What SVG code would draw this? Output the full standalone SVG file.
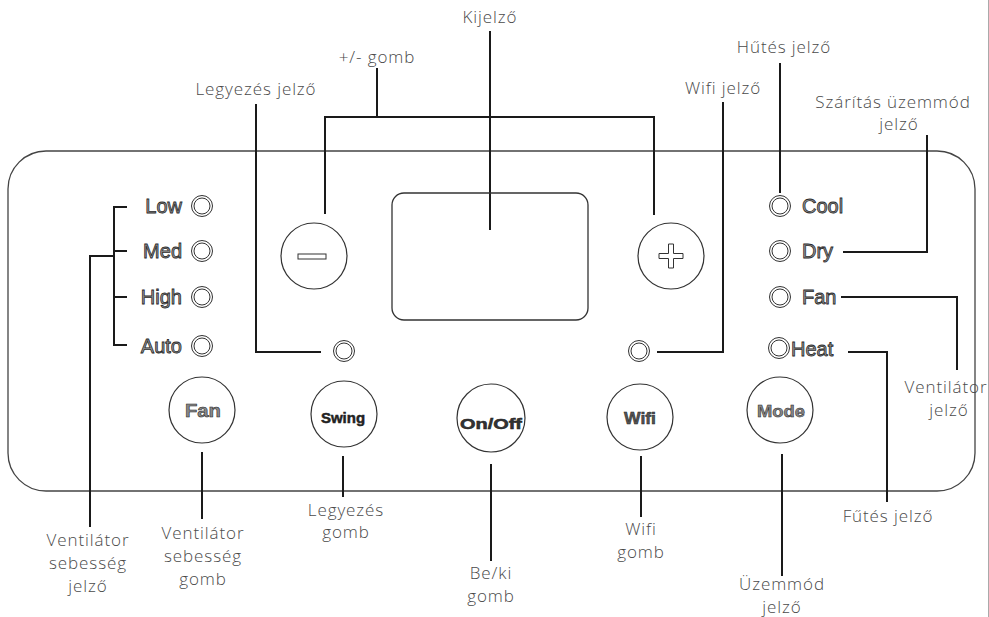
<svg xmlns="http://www.w3.org/2000/svg" width="989" height="617" viewBox="0 0 989 617">
<style>
.lbl{font-family:"Open Sans","Lato","Liberation Sans",sans-serif;font-weight:300;font-size:17px;letter-spacing:0.9px;fill:#4a4a4a;text-anchor:middle;dominant-baseline:central}
.key{font-family:"Liberation Sans",Arial,sans-serif;font-weight:normal;font-size:20px;fill:#9a9a9a;stroke:#2a2a2a;stroke-width:0.8;dominant-baseline:central}
.btn{font-family:"Liberation Sans",Arial,sans-serif;font-weight:bold;fill:#888;stroke:#222;stroke-width:0.5;text-anchor:middle;dominant-baseline:central}
.ln{stroke:#1a1a1a;stroke-width:2;fill:none}
.circ{fill:#fff;stroke:#333;stroke-width:1.2}
.led{fill:none;stroke:#333;stroke-width:1}
</style>
<defs>
<g id="ledsym"><circle r="10.5" class="led"/><circle r="8" class="led"/></g>
</defs>
<rect x="0" y="0" width="989" height="617" fill="#fff"/>
<line x1="988.5" y1="0" x2="988.5" y2="617" stroke="#aaa" stroke-width="1"/>
<g id="panel">
<rect x="8" y="151" width="967" height="340" rx="38" ry="38" fill="none" stroke="#444" stroke-width="1.3"/>
</g>
<g id="connectors">
<polyline class="ln" points="127,207 114,207 114,345 127,345"/>
<line class="ln" x1="114" y1="251" x2="127" y2="251"/>
<line class="ln" x1="114" y1="297" x2="127" y2="297"/>
<polyline class="ln" points="114,256 90,256 90,527"/>
<polyline class="ln" points="325,214 325,117 654,117 654,215"/>
<line class="ln" x1="377" y1="68" x2="377" y2="117"/>
<polyline class="ln" points="256,104 256,352 321,352"/>
<line class="ln" x1="490" y1="31" x2="490" y2="230"/>
<polyline class="ln" points="723,102 723,352 657,352"/>
<line class="ln" x1="780" y1="63" x2="780" y2="193"/>
<polyline class="ln" points="927,135 927,252 843,252"/>
<polyline class="ln" points="841,297 957,297 957,370"/>
<polyline class="ln" points="848,352 887,352 887,502"/>
<line class="ln" x1="202" y1="452" x2="202" y2="519"/>
<line class="ln" x1="343" y1="456" x2="343" y2="497"/>
<line class="ln" x1="491" y1="464" x2="491" y2="561"/>
<line class="ln" x1="641" y1="456" x2="641" y2="517"/>
<line class="ln" x1="782" y1="454" x2="782" y2="576"/>
</g>
<g id="speed-leds">
<text class="key" x="182" y="206" text-anchor="end">Low</text>
<use href="#ledsym" x="202" y="206"/>
<text class="key" x="182" y="251" text-anchor="end">Med</text>
<use href="#ledsym" x="202" y="251"/>
<text class="key" x="182" y="297" text-anchor="end">High</text>
<use href="#ledsym" x="202" y="297"/>
<text class="key" x="182" y="346" text-anchor="end">Auto</text>
<use href="#ledsym" x="202" y="346"/>
</g>
<g id="mode-leds">
<use href="#ledsym" x="780" y="206"/>
<text class="key" x="802" y="206">Cool</text>
<use href="#ledsym" x="780" y="251"/>
<text class="key" x="802" y="251">Dry</text>
<use href="#ledsym" x="780" y="297"/>
<text class="key" x="802" y="297">Fan</text>
<use href="#ledsym" x="779" y="348"/>
<text class="key" x="791" y="349">Heat</text>
</g>
<g id="minus-btn">
<circle class="circ" cx="314" cy="256" r="33"/>
<rect x="298" y="254" width="28" height="5" fill="#fff" stroke="#333" stroke-width="1"/>
</g>
<g id="plus-btn">
<circle class="circ" cx="671" cy="256" r="33"/>
<path d="M668.5,244 h5 v9.5 h9.5 v5 h-9.5 v9.5 h-5 v-9.5 h-9.5 v-5 h9.5 z" fill="#fff" stroke="#333" stroke-width="1"/>
</g>
<g id="display">
<rect x="392" y="193" width="196" height="127" rx="12" ry="12" fill="none" stroke="#333" stroke-width="1.3"/>
</g>
<g id="swing-led"><use href="#ledsym" x="344" y="351"/></g>
<g id="wifi-led"><use href="#ledsym" x="639" y="351"/></g>
<g id="fan-btn">
<circle class="circ" cx="202" cy="410" r="33"/>
<text class="btn" x="203" y="411" font-size="18" textLength="36" lengthAdjust="spacingAndGlyphs">Fan</text>
</g>
<g id="swing-btn">
<circle class="circ" cx="344" cy="414" r="33"/>
<text class="btn" x="343" y="417" font-size="15" style="fill:#222">Swing</text>
</g>
<g id="onoff-btn">
<circle class="circ" cx="491" cy="418" r="34"/>
<text class="btn" x="491" y="423" font-size="15" textLength="62" lengthAdjust="spacingAndGlyphs" style="fill:#333">On/Off</text>
</g>
<g id="wifi-btn">
<circle class="circ" cx="640" cy="417" r="33"/>
<text class="btn" x="640" y="418" font-size="16" textLength="32" lengthAdjust="spacingAndGlyphs" style="fill:#555">Wifi</text>
</g>
<g id="mode-btn">
<circle class="circ" cx="780" cy="410" r="33"/>
<text class="btn" x="781" y="411" font-size="17" textLength="48" lengthAdjust="spacingAndGlyphs">Mode</text>
</g>
<g id="labels">
<text class="lbl" x="490" y="16">Kijelző</text>
<text class="lbl" x="377" y="56">+/- gomb</text>
<text class="lbl" x="256" y="88">Legyezés jelző</text>
<text class="lbl" x="723" y="87">Wifi jelző</text>
<text class="lbl" x="784" y="46">Hűtés jelző</text>
<text class="lbl" x="893" y="101">Szárítás üzemmód</text>
<text class="lbl" x="899" y="123">jelző</text>
<text class="lbl" x="946" y="386">Ventilátor</text>
<text class="lbl" x="949" y="409">jelző</text>
<text class="lbl" x="888" y="515">Fűtés jelző</text>
<text class="lbl" x="88" y="539">Ventilátor</text>
<text class="lbl" x="88" y="562">sebesség</text>
<text class="lbl" x="88" y="585">jelző</text>
<text class="lbl" x="203" y="532">Ventilátor</text>
<text class="lbl" x="203" y="555">sebesség</text>
<text class="lbl" x="203" y="578">gomb</text>
<text class="lbl" x="346" y="509">Legyezés</text>
<text class="lbl" x="346" y="531">gomb</text>
<text class="lbl" x="491" y="572">Be/ki</text>
<text class="lbl" x="491" y="595">gomb</text>
<text class="lbl" x="641" y="528">Wifi</text>
<text class="lbl" x="641" y="551">gomb</text>
<text class="lbl" x="782" y="583">Üzemmód</text>
<text class="lbl" x="782" y="606">jelző</text>
</g>
</svg>
